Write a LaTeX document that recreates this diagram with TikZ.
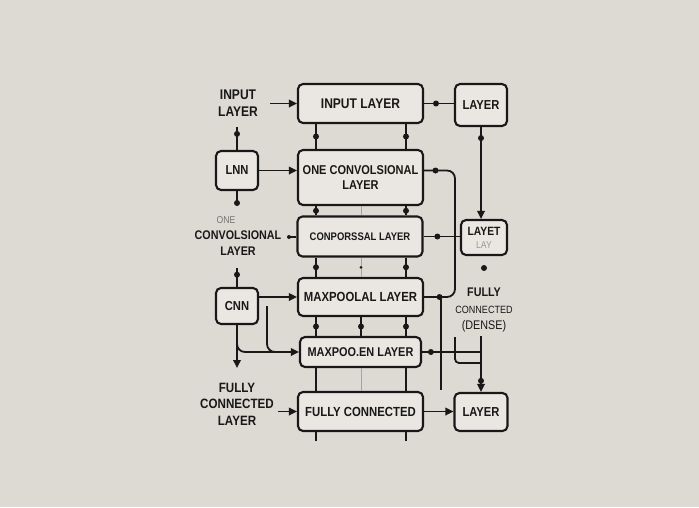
\documentclass[tikz,border=0pt]{standalone}
\usepackage{fontspec}
\setmainfont{Liberation Sans}[FakeStretch=0.86]
\usetikzlibrary{arrows.meta,calc}
\definecolor{bg}{RGB}{221,217,211}
\definecolor{boxfill}{RGB}{234,231,226}
\definecolor{ink}{RGB}{24,24,24}
\tikzset{
 box/.style={draw=ink, line width=2.1pt, rounded corners=5pt, fill=boxfill, inner sep=0pt, align=center, text=ink, font=\bfseries\fontsize{13}{15}\selectfont},
 lbl/.style={align=center, text=ink, inner sep=0pt, font=\bfseries\fontsize{13.5}{16.5}\selectfont},
 wire/.style={draw=ink, line width=1.8pt},
 arr/.style={wire, -{Triangle[length=8pt,width=7.5pt]}},
 faint/.style={draw=ink!40, line width=0.8pt},
 dot/.style={circle, fill=ink, inner sep=0pt, minimum size=6pt},
}
\begin{document}
\begin{tikzpicture}[x=1pt,y=-1pt]
\fill[bg] (0,0) rectangle (699,507);
\useasboundingbox (0,0) rectangle (699,507);

% column x positions
\coordinate (c1) at (316,0);
\coordinate (c2) at (361,0);
\coordinate (c3) at (406,0);
\coordinate (brx) at (455,0);
\coordinate (vlx) at (441,0);

% main column
\node[box, minimum width=125pt, minimum height=39pt, font=\bfseries\fontsize{14}{16}\selectfont] (in) at (360.5,103.5) {INPUT LAYER};
\node[box, minimum width=125pt, minimum height=55pt, font=\bfseries\fontsize{12.8}{15}\selectfont] (oc) at (360.5,177.5) {ONE CONVOLSIONAL\\LAYER};
\node[box, minimum width=125pt, minimum height=40pt, font=\bfseries\fontsize{11}{13}\selectfont] (cp) at (360,236.5) {CONPORSSAL LAYER};
\node[box, minimum width=125pt, minimum height=38pt, font=\bfseries\fontsize{13.2}{15}\selectfont] (mp) at (360.5,297) {MAXPOOLAL LAYER};
\node[box, minimum width=121pt, minimum height=30pt, font=\bfseries\fontsize{12.7}{15}\selectfont] (me) at (360.5,352) {MAXPOO.EN LAYER};
\node[box, minimum width=125pt, minimum height=39pt, font=\bfseries\fontsize{13.2}{15}\selectfont] (fc) at (360.5,411.5) {FULLY CONNECTED};

% right column
\node[box, minimum width=52pt, minimum height=42pt] (l1) at (481,105) {LAYER};
\node[box, minimum width=46pt, minimum height=35pt, font=\bfseries\fontsize{12}{13}\selectfont] (l2) at (484,237.5) {LAYET\\{\color{ink!45}\mdseries\fontsize{10}{10}\selectfont LAY}};
\node[box, minimum width=53pt, minimum height=38pt] (l3) at (481,412) {LAYER};
\node[lbl] (tFd) at (484,310) {\fontsize{12.5}{17}\selectfont FULLY\\{\mdseries\fontsize{10.5}{17}\selectfont CONNECTED}\\{\mdseries\fontsize{12.5}{17}\selectfont (DENSE)}};

% left column
\node[lbl, font=\bfseries\fontsize{14}{17}\selectfont] (tIn) at (238,103) {INPUT\\LAYER};
\node[box, minimum width=42pt, minimum height=39pt] (lnn) at (237,170.5) {LNN};
\node[lbl, text=ink!60, font=\mdseries\fontsize{10}{12}\selectfont] (tOne) at (226,220) {ONE};
\node[lbl, font=\bfseries\fontsize{12.5}{15.5}\selectfont] (tOc) at (238,243) {CONVOLSIONAL\\LAYER};
\node[box, minimum width=42pt, minimum height=36pt] (cnn) at (237,306) {CNN};
\node[lbl] (tFc) at (237,404) {FULLY\\CONNECTED\\LAYER};

% left connectors
\coordinate (d1) at (237,127);
\coordinate (d2) at (237,203);
\coordinate (d3) at (289,237);
\coordinate (d4) at (237,268);
\coordinate (cdown) at (237,368);
\coordinate (cx) at (267,306);
\draw[arr] (tIn.east |- in.west) ++(12,0) -- (in.west);
\draw[wire] (d1) -- node[dot,pos=.3]{} (lnn.north);
\draw[arr] (lnn.east) -- (lnn.east -| oc.west);
\draw[wire] (lnn.south) -- (d2);
\node[dot] at (d2) {};
\draw[wire] (d3) -- (d3 -| cp.west);
\node[dot, minimum size=4pt] at (d3) {};
\draw[wire] (d4) -- node[dot,pos=.35]{} (cnn.north);
\draw[arr] (cnn.east |- mp.west) -- (mp.west);
\draw[arr] (cnn.south) -- (cdown);
\draw[arr, rounded corners=8pt] (cnn.south |- 0,334) -- (cnn.south |- me.west) -- (me.west);
\draw[wire, rounded corners=8pt] (cx) -- (cx |- me.west) -- ++(14,0);
\draw[arr] (tFc.east |- fc.west) ++(4,0) -- (fc.west);

% main verticals
\draw[wire] (in.south -| c1) -- node[dot]{} (oc.north -| c1);
\draw[wire] (in.south -| c3) -- node[dot]{} (oc.north -| c3);
\draw[wire] (oc.south -| c1) -- node[dot]{} (cp.north -| c1);
\draw[faint] (oc.south -| c2) -- (cp.north -| c2);
\draw[wire] (oc.south -| c3) -- node[dot]{} (cp.north -| c3);
\draw[wire] (cp.south -| c1) -- node[dot]{} (mp.north -| c1);
\draw[faint] (cp.south -| c2) -- node[dot, minimum size=3pt]{} (mp.north -| c2);
\draw[wire] (cp.south -| c3) -- node[dot]{} (mp.north -| c3);
\draw[wire] (mp.south -| c1) -- node[dot]{} (me.north -| c1);
\draw[wire] (mp.south -| c2) -- node[dot]{} (me.north -| c2);
\draw[wire] (mp.south -| c3) -- node[dot]{} (me.north -| c3);
\draw[wire] (me.south -| c1) -- (fc.north -| c1);
\draw[faint] (me.south -| c2) -- (fc.north -| c2);
\draw[wire] (me.south -| c3) -- (fc.north -| c3);
\draw[wire] (fc.south -| c1) -- ++(0,9);
\draw[wire] (fc.south -| c3) -- ++(0,9);

% right connectors
\draw[wire] (in.east) -- node[dot,pos=.4]{} (in.east -| l1.west);
\draw[arr] (l1.south) -- node[dot,pos=.12]{} (l1.south |- l2.north);
\draw[wire, rounded corners=8pt] (lnn.east -| oc.east) -- node[dot,pos=.37]{} (lnn.east -| brx) -- (mp.east -| brx) -- node[dot,pos=.5]{} (mp.east);
\draw[wire] (cp.east) -- node[dot,pos=.38]{} (cp.east -| l2.west);
\node[dot] (d5) at (484,268) {};
\draw[wire, line width=1.1pt] (mp.east -| vlx) -- (vlx |- 0,390);
\draw[wire] (me.east) -- node[dot,pos=.15]{} (me.east -| l3.north);
\draw[wire, rounded corners=4pt] (brx |- 0,337) -- (brx |- 0,363) -- (l3.north |- 0,363);
\draw[arr] (l3.north |- tFd.south) ++(0,4) -- node[dot,pos=.8]{} (l3.north);
\draw[arr] (fc.east) -- (fc.east -| l3.west);
\end{tikzpicture}
\end{document}
